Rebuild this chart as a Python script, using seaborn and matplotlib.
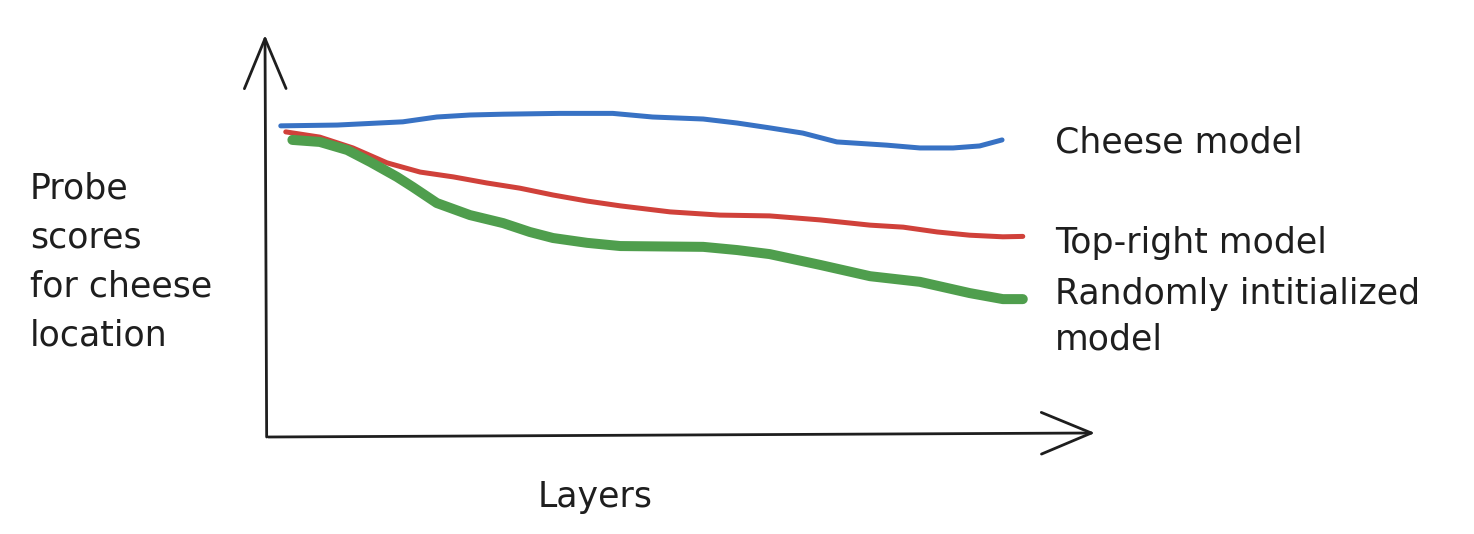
import numpy as np
import pandas as pd
import matplotlib.pyplot as plt
import seaborn as sns

# values, both axes in % of the drawn axis length
cheese_x = [1.9, 8.7, 16.6, 20.7, 24.7, 28.7, 35.5, 41.9, 46.7, 52.8, 56.9,
            60.8, 64.8, 68.9, 74.9, 78.9, 82.9, 86.1, 88.8]
cheese_y = [77.4, 77.6, 78.4, 79.6, 80.1, 80.3, 80.5, 80.5, 79.6, 79.1, 78.1,
            76.9, 75.6, 73.4, 72.6, 71.9, 71.9, 72.4, 73.9]

topright_x = [2.5, 6.6, 10.6, 14.7, 18.7, 22.7, 26.7, 30.7, 34.7, 38.8, 42.8,
              48.8, 54.8, 60.8, 66.9, 72.9, 76.9, 81.0, 84.9, 88.9, 91.3]
topright_y = [75.9, 74.6, 71.9, 68.2, 65.9, 64.7, 63.2, 61.9, 60.2, 58.7, 57.5,
              56.0, 55.2, 55.0, 54.0, 52.7, 52.2, 51.0, 50.2, 49.8, 49.9]

random_x = [3.3, 6.6, 9.9, 12.7, 15.9, 17.8, 20.7, 24.7, 28.7, 31.9, 34.7,
            38.8, 42.8, 52.8, 56.9, 60.8, 66.9, 72.9, 78.9, 84.9, 88.9, 91.3]
random_y = [73.9, 73.4, 71.4, 68.4, 64.7, 62.2, 58.2, 55.2, 53.2, 51.0, 49.5,
            48.3, 47.5, 47.3, 46.5, 45.5, 42.8, 40.0, 38.6, 35.8, 34.3, 34.3]

labels = ['Cheese model', 'Top-right model', 'Randomly intitialized\nmodel']
colors = ['#3872c4', '#d0413a', '#4f9e4d']
ink = '#1e1e1e'

sns.set_style('white')
plt.rcParams['font.family'] = ['DejaVu Sans']

W, H = 1474, 534
fig = plt.figure(figsize=(W / 100, H / 100), dpi=100)
# axes box: x axis at px 265..1095, y axis at px 437..35
ax = fig.add_axes([265 / W, 1 - 437 / H, (1095 - 265) / W, (437 - 35) / H])

sns.lineplot(x=cheese_x, y=cheese_y, color=colors[0], lw=3.6, sort=False,
             solid_capstyle='round', solid_joinstyle='round', ax=ax)
sns.lineplot(x=topright_x, y=topright_y, color=colors[1], lw=3.6, sort=False,
             solid_capstyle='round', solid_joinstyle='round', ax=ax)
sns.lineplot(x=random_x, y=random_y, color=colors[2], lw=7.2, sort=False,
             solid_capstyle='round', solid_joinstyle='round', ax=ax)

ax.set_xlim(0, 100)
ax.set_ylim(0, 100)
ax.set_xticks([])
ax.set_yticks([])
for s in ax.spines.values():
    s.set_visible(False)

# hand-drawn style axis arrows
arrow = dict(arrowstyle='->,head_length=36,head_width=15', lw=2, color=ink,
             mutation_scale=1, shrinkA=0, shrinkB=0)
ax.annotate('', xy=(0, 1), xytext=(0.002, 0), xycoords='axes fraction',
            arrowprops=arrow)
ax.annotate('', xy=(1, 0.01), xytext=(0.004, 0), xycoords='axes fraction',
            arrowprops=arrow)

fs = 25
def put(px, py, s, **kw):
    fig.text(px / W, 1 - py / H, s, fontsize=fs, color=ink, **kw)

put(30, 345, 'Probe\nscores\nfor cheese\nlocation', va='baseline',
    linespacing=1.55)
put(1055, 153, labels[0], va='baseline')
put(1055, 253, labels[1], va='baseline')
put(1055, 350, labels[2], va='baseline', linespacing=1.45)
put(595, 497, 'Layers', ha='center', va='center')

fig.savefig('out.png', dpi=100)
